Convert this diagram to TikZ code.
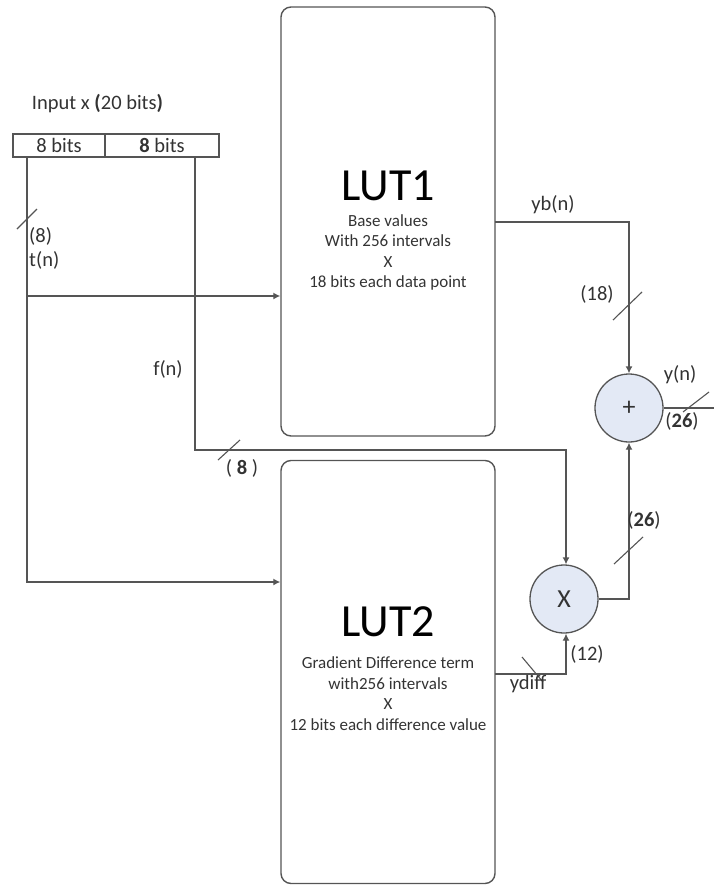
\documentclass[tikz,border=0pt]{standalone}
\usepackage{fontspec}
\setmainfont{Carlito}
\usetikzlibrary{arrows.meta}
\definecolor{ln}{HTML}{555555}
\definecolor{tx}{HTML}{333333}
\definecolor{cf}{HTML}{E3E9F5}
\begin{document}
\begin{tikzpicture}[x=1pt,y=-1pt,
  wire/.style={draw=ln,line width=1.3pt},
  arr/.style={wire,-{Latex[length=7pt,width=7pt]}},
  tick/.style={draw=ln,line width=1.1pt},
  lbl/.style={text=tx,font=\fontsize{20.5}{23}\selectfont,inner sep=0pt},
  small/.style={text=tx,font=\fontsize{17}{20.5}\selectfont,inner sep=0pt},
  lut/.style={draw=ln,line width=1.4pt,rounded corners=10pt,minimum width=214pt,inner sep=0pt},
  cell/.style={draw=ln,line width=1.3pt,minimum height=23pt,inner sep=0pt,text=tx,font=\fontsize{20.5}{22}\selectfont},
  op/.style={circle,draw=ln,line width=1.3pt,fill=cf,minimum size=68pt,inner sep=0pt,text=tx,font=\fontsize{26}{28}\selectfont},
  title/.style={text=black,font=\fontsize{46}{50}\selectfont,inner sep=0pt}]
\useasboundingbox (0,0) rectangle (714,886);
% input register
\node[lbl] (inlbl) at (97.5,104) {Input x \textbf{(}20 bits\textbf{)}};
\node[cell,minimum width=92pt] (in1) at (59,145.5) {8 bits};
\node[cell,minimum width=114pt] (in2) at (162,145.5) {\textbf{8} bits};
% LUTs
\node[lut,minimum height=429pt] (lut1) at (388,221.5) {};
\node[lut,minimum height=423pt] (lut2) at (388,672) {};
\node[title] (t1) at (388,186) {LUT1};
\node[small,align=center] (d1) at (388,252.5) {Base values\\With 256 intervals\\X\\18 bits each data point};
\node[title] (t2) at (388,622) {LUT2};
\node[small,align=center] (d2) at (388,693.5) {Gradient Difference term\\with256 intervals\\X\\12 bits each difference value};
% operators
\node[op] (plus) at (629,408) {+};
\node[op] (mul) at (564,599) {X};
% coordinates
\coordinate (tA) at (27,157);
\coordinate (tB) at (27,582);
\coordinate (tC) at (27,296);
\coordinate (fA) at (195,157);
\coordinate (fB) at (195,450);
\coordinate (fC) at (566,450);
\coordinate (ybA) at (494.5,222);
\coordinate (ybB) at (629,222);
\coordinate (mB) at (629,599);
\coordinate (ydA) at (494.5,674);
\coordinate (ydB) at (566,674);
\coordinate (out) at (724,408);
% wires
\draw[arr] (tA) -- (tB) -- (tB -| lut2.west);
\draw[arr] (tC) -- (tC -| lut1.west);
\draw[arr] (fA) -- (fB) -- (fC) -- (fC |- mul.north);
\draw[arr] (ybA) -- (ybB) -- (plus.north);
\draw[arr] (mul.east) -- (mB) -- (plus.south);
\draw[arr] (ydA) -- (ydB) -- (ydB |- mul.south);
\draw[arr] (plus.east) -- (out);
% bus ticks
\draw[tick] (17,229) -- (37,209);
\draw[tick] (218,460) -- (240,440);
\draw[tick] (613,320) -- (642,292);
\draw[tick] (614,564) -- (643,537);
\draw[tick] (522,657) -- (543,682);
\draw[tick] (683,412) -- (709,392);
% labels
\node[lbl,anchor=west] (l8) at (29,236) {(8)};
\node[lbl,anchor=west] (ltn) at (29,260) {t(n)};
\node[lbl] (lfn) at (168,369) {f(n)};
\node[lbl] (l8b) at (242,468) {( \textbf{8} )};
\node[lbl] (lyb) at (553,205) {yb(n)};
\node[lbl] (l18) at (597,294) {(18)};
\node[lbl] (lyn) at (680,375) {y(n)};
\node[lbl] (l26a) at (682,421) {(\textbf{26})};
\node[lbl] (l26b) at (644,520) {(\textbf{26})};
\node[lbl] (l12) at (587,654) {(12)};
\node[lbl] (lyd) at (528,684) {ydiff};
\end{tikzpicture}
\end{document}
